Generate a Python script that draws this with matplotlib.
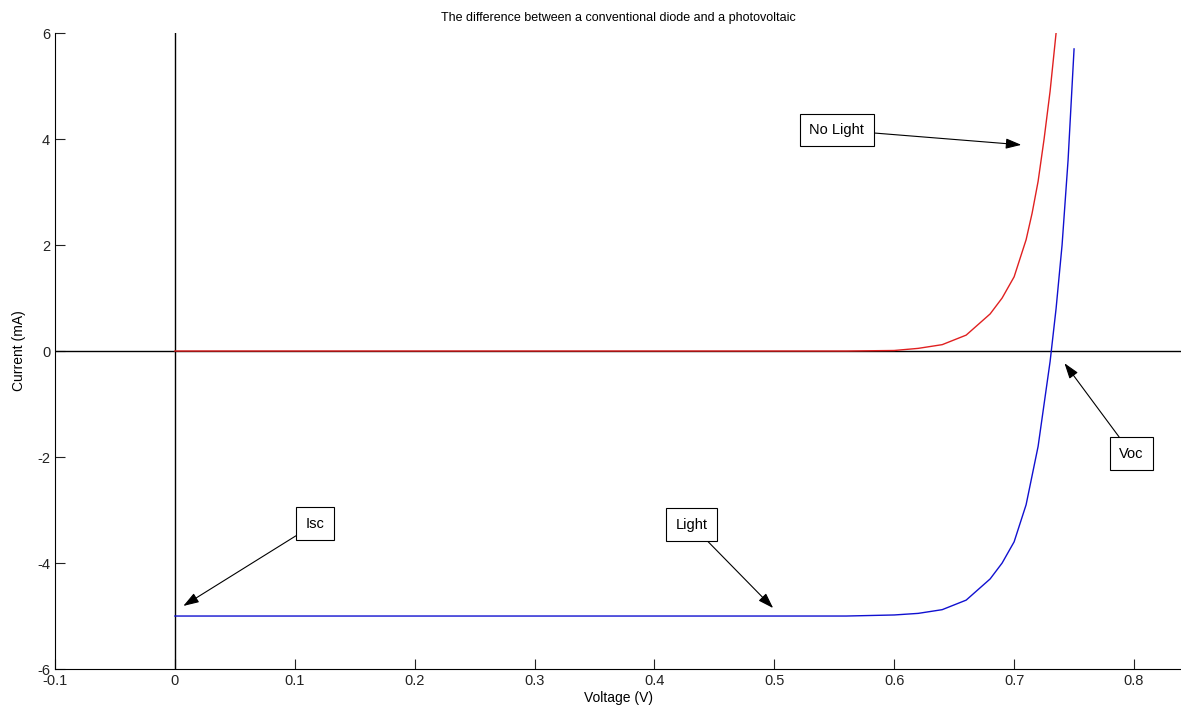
import matplotlib.pyplot as plt

plt.rcParams['font.family'] = ['Liberation Sans', 'DejaVu Sans']
plt.rcParams['axes.unicode_minus'] = False

# values
v_dark = [0.0, 0.50, 0.56, 0.60, 0.62, 0.64, 0.66, 0.68, 0.69, 0.70, 0.71, 0.715, 0.72, 0.725, 0.73, 0.735]
i_dark = [0.0, 0.0, 0.0, 0.01, 0.05, 0.12, 0.30, 0.70, 1.00, 1.40, 2.10, 2.60, 3.20, 4.00, 4.90, 6.00]

v_light = [0.0, 0.50, 0.56, 0.60, 0.62, 0.64, 0.66, 0.68, 0.69, 0.70, 0.71, 0.72, 0.725, 0.73, 0.735, 0.74, 0.745, 0.75]
i_light = [-5.0, -5.0, -5.0, -4.98, -4.95, -4.88, -4.70, -4.30, -4.00, -3.60, -2.90, -1.80, -1.00, -0.20, 0.80, 2.00, 3.60, 5.70]

x_ticks = [-0.1, 0, 0.1, 0.2, 0.3, 0.4, 0.5, 0.6, 0.7, 0.8]
x_labels = ['-0.1', '0', '0.1', '0.2', '0.3', '0.4', '0.5', '0.6', '0.7', '0.8']
y_ticks = [-6, -4, -2, 0, 2, 4, 6]

# label text, label position, arrow tip
notes = [
    ('No Light', (0.552, 4.17), (0.706, 3.89)),
    ('Isc', (0.117, -3.26), (0.007, -4.81)),
    ('Light', (0.431, -3.28), (0.499, -4.85)),
    ('Voc', (0.798, -1.94), (0.742, -0.23)),
]

fig = plt.figure(figsize=(11.81, 7.16), dpi=100)
ax = fig.add_axes([0.0466, 0.0656, 0.9534, 0.8883])

ax.axhline(0, color='black', lw=1)
ax.axvline(0, color='black', lw=1)
ax.plot(v_dark, i_dark, color='#e02020', lw=1)
ax.plot(v_light, i_light, color='#1010d0', lw=1)

for text, xy_text, xy_tip in notes:
    ax.annotate(text, xy=xy_tip, xytext=xy_text, fontsize=10.5,
                ha='center', va='center',
                bbox=dict(boxstyle='square,pad=0.65', fc='white', ec='black', lw=0.8),
                arrowprops=dict(arrowstyle='-|>,head_length=0.9,head_width=0.3',
                                color='black', lw=0.8, shrinkA=0, shrinkB=0))

ax.set_xlim(-0.1, 0.8392)
ax.set_ylim(-6, 6)
ax.set_xticks(x_ticks)
ax.set_xticklabels(x_labels)
ax.set_yticks(y_ticks)
ax.tick_params(direction='in', length=7, labelsize=10.5, colors='#222222')
ax.spines['top'].set_visible(False)
ax.spines['right'].set_visible(False)

ax.set_title('The difference between a conventional diode and a photovoltaic',
             fontsize=9, pad=9)
ax.set_xlabel('Voltage (V)', fontsize=10, labelpad=2)
ax.set_ylabel('Current (mA)', fontsize=10, labelpad=8)

fig.savefig('out.png', dpi=100)
